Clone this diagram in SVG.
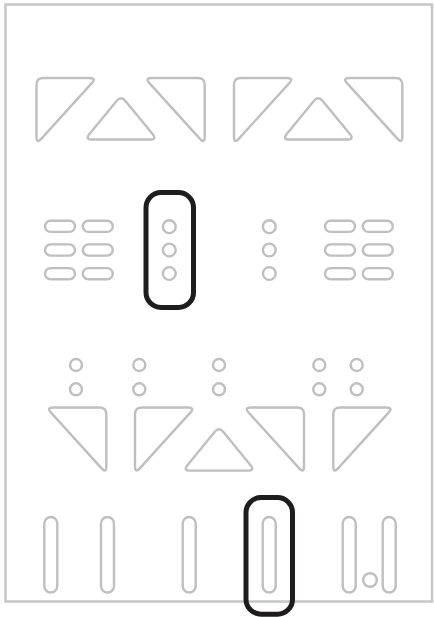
<svg xmlns="http://www.w3.org/2000/svg" width="434" height="617" viewBox="0 0 434 617">
<style>
.g{fill:none;stroke:#bfbfc2;stroke-width:2.4}
.frame{fill:none;stroke:#c6c6c8;stroke-width:2.5}
.hl{fill:none;stroke:#1f1c1d;stroke-width:5}
</style>
<defs>
<path id="triA" d="M7,0 L53,0 Q60,0 55.29,5.18 L4.71,60.82 Q0,66 0,59 L0,7 Q0,0 7,0 Z"/>
<path id="triB" d="M53,0 L7,0 Q0,0 4.71,5.18 L55.29,60.82 Q60,66 60,59 L60,7 Q60,0 53,0 Z"/>
<path id="triC" d="M40.43,5.42 L67.57,38.58 Q72,44 65,44 L7,44 Q0,44 4.43,38.58 L31.57,5.42 Q36,0 40.43,5.42 Z"/>
<rect id="pillH" x="-15" y="-5.6" width="30" height="11.2" rx="5.6"/>
<rect id="pillV" x="-6.5" y="0" width="13" height="75.5" rx="6.5"/>
</defs>
<rect width="434" height="617" fill="#ffffff"/>
<rect id="frame" class="frame" x="5.5" y="4.5" width="426.5" height="597"/>

<g id="top-row" class="g">
<use href="#triA" transform="translate(36.5,78)"/>
<use href="#triC" transform="translate(85,95.5)"/>
<use href="#triB" transform="translate(144.7,78)"/>
<use href="#triA" transform="translate(234,78)"/>
<use href="#triC" transform="translate(282.3,95.5)"/>
<use href="#triB" transform="translate(342.3,78)"/>
</g>

<g id="pills-left" class="g">
<use href="#pillH" x="60" y="226.3"/>
<use href="#pillH" x="97.8" y="226.3"/>
<use href="#pillH" x="60" y="250"/>
<use href="#pillH" x="97.8" y="250"/>
<use href="#pillH" x="60" y="273.7"/>
<use href="#pillH" x="97.8" y="273.7"/>
</g>

<g id="dots-mid-left" class="g">
<circle cx="169.3" cy="226.7" r="6.4"/>
<circle cx="169.3" cy="250" r="6.4"/>
<circle cx="169.3" cy="273.5" r="6.4"/>
</g>

<g id="dots-mid-right" class="g">
<circle cx="269.3" cy="226.7" r="6.4"/>
<circle cx="269.3" cy="250" r="6.4"/>
<circle cx="269.3" cy="273.5" r="6.4"/>
</g>

<g id="pills-right" class="g">
<use href="#pillH" x="340" y="226.3"/>
<use href="#pillH" x="377.8" y="226.3"/>
<use href="#pillH" x="340" y="250"/>
<use href="#pillH" x="377.8" y="250"/>
<use href="#pillH" x="340" y="273.7"/>
<use href="#pillH" x="377.8" y="273.7"/>
</g>

<g id="dots-lower" class="g">
<circle cx="76" cy="365" r="6"/>
<circle cx="76" cy="389.3" r="6"/>
<circle cx="139.3" cy="365" r="6"/>
<circle cx="139.3" cy="389.3" r="6"/>
<circle cx="219" cy="365" r="6"/>
<circle cx="219" cy="389.3" r="6"/>
<circle cx="319.3" cy="365" r="6"/>
<circle cx="319.3" cy="389.3" r="6"/>
<circle cx="356.7" cy="365" r="6"/>
<circle cx="356.7" cy="389.3" r="6"/>
</g>

<g id="lower-row" class="g">
<use href="#triB" transform="translate(46.3,407.5)"/>
<use href="#triA" transform="translate(135,407.5)"/>
<use href="#triC" transform="translate(183,426.6)"/>
<use href="#triB" transform="translate(244,407.5)"/>
<use href="#triA" transform="translate(333.3,407.5)"/>
</g>

<g id="bars" class="g">
<use href="#pillV" x="50.8" y="517"/>
<use href="#pillV" x="107.5" y="517"/>
<use href="#pillV" x="189.2" y="517"/>
<use href="#pillV" x="269.2" y="517"/>
<use href="#pillV" x="349.2" y="517"/>
<use href="#pillV" x="389.2" y="517"/>
<circle cx="370" cy="580" r="6.8"/>
</g>

<g id="highlight-1">
<rect class="hl" x="146" y="192.5" width="47.5" height="115" rx="15"/>
</g>
<g id="highlight-2">
<rect class="hl" x="246" y="497.5" width="46.5" height="116.7" rx="15"/>
</g>
</svg>
